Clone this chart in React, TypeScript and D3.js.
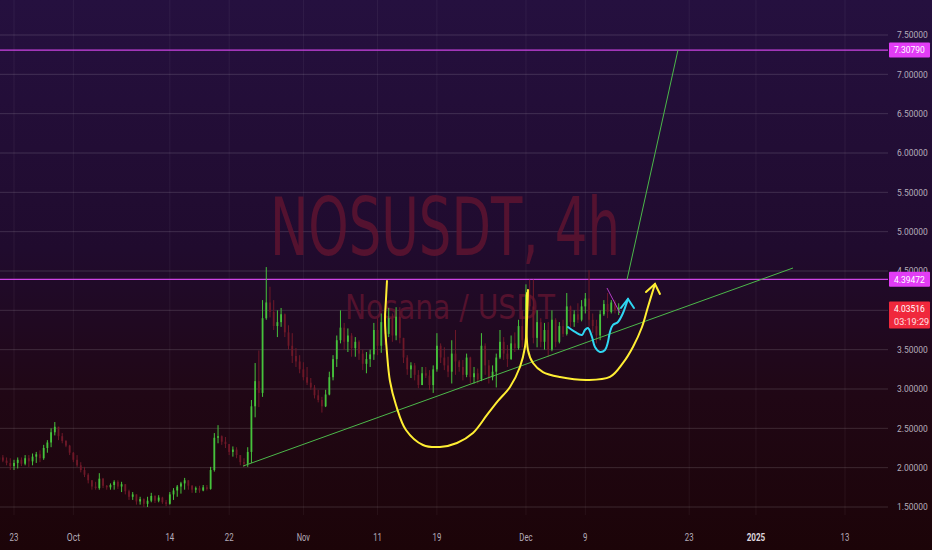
import React, { useEffect, useRef } from "react";
import * as d3 from "d3";

const firstCandle = Date.UTC(2024, 8, 21);
const candleStep = 12 * 3600 * 1000;

const opens = [
  2.10, 2.13, 2.09, 2.06, 2.02, 2.06, 2.10, 2.05, 2.12, 2.08,
  2.14, 2.17, 2.12, 2.25, 2.32, 2.45, 2.52, 2.40, 2.34, 2.28,
  2.19, 2.10, 2.03, 1.97, 1.91, 1.84, 1.76, 1.74, 1.86, 1.77,
  1.75, 1.78, 1.82, 1.76, 1.79, 1.70, 1.63, 1.66, 1.57, 1.60,
  1.54, 1.58, 1.64, 1.58, 1.62, 1.56, 1.54, 1.66, 1.71, 1.76,
  1.80, 1.84, 1.77, 1.72, 1.74, 1.71, 1.75, 1.73, 1.97, 2.38,
  2.40, 2.33, 2.30, 2.20, 2.23, 2.16, 2.07, 2.05, 2.20, 2.78,
  3.10, 2.95, 3.90, 4.10, 3.98, 3.80, 3.85, 3.95, 3.72, 3.55,
  3.42, 3.35, 3.25, 3.15, 3.08, 3.02, 2.92, 2.86, 2.78, 2.93,
  3.15, 3.38, 3.62, 3.78, 3.60, 3.68, 3.52, 3.60, 3.45, 3.32,
  3.38, 3.44, 3.75, 3.55, 3.85, 3.70, 3.90, 3.68, 3.92, 3.65,
  3.40, 3.25, 3.30, 3.18, 3.05, 3.20, 3.17, 3.05, 3.25, 3.55,
  3.40, 3.30, 3.22, 3.45, 3.35, 3.28, 3.18, 3.40, 3.15, 3.20,
  3.12, 3.55, 3.30, 3.15, 3.22, 3.40, 3.60, 3.45, 3.38, 3.58,
  3.52, 3.80, 3.62, 4.20, 4.05, 3.65, 3.85, 3.60, 3.75, 3.50,
  3.88, 3.60, 3.80, 3.70, 4.05, 3.85, 3.95, 3.88, 4.05, 4.15,
  3.88, 3.80, 3.68, 3.95, 4.08, 3.98, 4.10, 4.00,
];
const highs = [
  2.16, 2.16, 2.13, 2.12, 2.10, 2.13, 2.13, 2.16, 2.16, 2.18,
  2.20, 2.22, 2.29, 2.35, 2.50, 2.58, 2.52, 2.44, 2.35, 2.29,
  2.20, 2.16, 2.07, 2.01, 1.93, 1.84, 1.82, 1.93, 1.87, 1.78,
  1.80, 1.84, 1.84, 1.82, 1.79, 1.72, 1.69, 1.66, 1.63, 1.61,
  1.63, 1.68, 1.65, 1.65, 1.63, 1.59, 1.69, 1.74, 1.78, 1.82,
  1.87, 1.84, 1.78, 1.76, 1.77, 1.78, 1.78, 2.01, 2.44, 2.54,
  2.41, 2.39, 2.30, 2.27, 2.26, 2.16, 2.12, 2.26, 2.86, 3.33,
  3.49, 4.13, 4.55, 4.30, 4.13, 4.00, 4.03, 3.96, 3.81, 3.71,
  3.52, 3.43, 3.34, 3.28, 3.14, 3.05, 2.99, 2.90, 2.99, 3.22,
  3.43, 3.68, 4.00, 3.84, 3.77, 3.71, 3.66, 3.62, 3.50, 3.47,
  3.50, 3.84, 3.90, 3.96, 3.97, 4.03, 3.96, 4.04, 4.04, 3.65,
  3.43, 3.34, 3.33, 3.24, 3.28, 3.28, 3.24, 3.30, 3.71, 3.58,
  3.53, 3.41, 3.62, 3.75, 3.37, 3.37, 3.45, 3.41, 3.28, 3.26,
  3.71, 3.58, 3.37, 3.30, 3.45, 3.75, 3.66, 3.56, 3.68, 3.72,
  3.88, 4.00, 4.33, 4.39, 4.39, 4.00, 3.90, 3.84, 3.85, 4.00,
  3.90, 3.85, 3.88, 4.22, 4.06, 4.00, 4.09, 4.13, 4.22, 4.51,
  3.96, 3.88, 4.00, 4.13, 4.22, 4.13, 4.13, 4.09,
];
const lows = [
  2.07, 2.07, 2.03, 1.97, 1.97, 1.99, 2.02, 2.03, 2.01, 2.03,
  2.06, 2.07, 2.10, 2.19, 2.26, 2.41, 2.35, 2.31, 2.26, 2.16,
  2.07, 2.01, 1.94, 1.88, 1.80, 1.72, 1.72, 1.72, 1.74, 1.72,
  1.72, 1.72, 1.73, 1.69, 1.66, 1.59, 1.59, 1.53, 1.53, 1.50,
  1.50, 1.56, 1.55, 1.56, 1.54, 1.51, 1.53, 1.59, 1.63, 1.67,
  1.72, 1.72, 1.68, 1.68, 1.68, 1.70, 1.71, 1.72, 1.95, 2.31,
  2.29, 2.25, 2.16, 2.14, 2.12, 2.03, 2.01, 2.01, 2.06, 2.64,
  2.77, 2.90, 3.88, 3.91, 3.75, 3.66, 3.79, 3.66, 3.50, 3.33,
  3.28, 3.20, 3.11, 3.05, 2.99, 2.88, 2.83, 2.70, 2.77, 2.92,
  3.11, 3.28, 3.58, 3.50, 3.47, 3.41, 3.41, 3.37, 3.24, 3.20,
  3.28, 3.37, 3.43, 3.46, 3.56, 3.66, 3.60, 3.62, 3.58, 3.33,
  3.18, 3.14, 3.11, 3.01, 3.05, 3.14, 2.99, 2.95, 3.22, 3.33,
  3.24, 3.15, 3.07, 3.18, 3.22, 3.11, 3.15, 3.07, 3.07, 3.07,
  3.10, 3.18, 3.07, 3.11, 3.02, 3.38, 3.37, 3.28, 3.37, 3.47,
  3.50, 3.53, 3.60, 4.00, 3.58, 3.53, 3.53, 3.50, 3.41, 3.48,
  3.53, 3.58, 3.66, 3.68, 3.79, 3.79, 3.84, 3.86, 3.96, 3.79,
  3.71, 3.58, 3.62, 3.93, 3.90, 3.96, 3.96, 3.94,
];
const closes = [
  2.13, 2.09, 2.06, 2.02, 2.06, 2.10, 2.05, 2.12, 2.08, 2.14,
  2.17, 2.12, 2.25, 2.32, 2.45, 2.52, 2.40, 2.34, 2.28, 2.19,
  2.10, 2.03, 1.97, 1.91, 1.84, 1.76, 1.74, 1.86, 1.77, 1.75,
  1.78, 1.82, 1.76, 1.79, 1.70, 1.63, 1.66, 1.57, 1.60, 1.54,
  1.58, 1.64, 1.58, 1.62, 1.56, 1.54, 1.66, 1.71, 1.76, 1.80,
  1.84, 1.77, 1.72, 1.74, 1.71, 1.75, 1.73, 1.97, 2.38, 2.40,
  2.33, 2.30, 2.20, 2.23, 2.16, 2.07, 2.05, 2.20, 2.78, 3.10,
  2.95, 3.90, 4.10, 3.98, 3.80, 3.85, 3.95, 3.72, 3.55, 3.42,
  3.35, 3.25, 3.15, 3.08, 3.02, 2.92, 2.86, 2.78, 2.93, 3.15,
  3.38, 3.62, 3.78, 3.60, 3.68, 3.52, 3.60, 3.45, 3.32, 3.38,
  3.44, 3.75, 3.55, 3.85, 3.70, 3.90, 3.68, 3.92, 3.65, 3.40,
  3.25, 3.30, 3.18, 3.05, 3.20, 3.17, 3.05, 3.25, 3.55, 3.40,
  3.30, 3.22, 3.45, 3.35, 3.28, 3.18, 3.40, 3.15, 3.20, 3.12,
  3.55, 3.30, 3.15, 3.22, 3.40, 3.60, 3.45, 3.38, 3.58, 3.52,
  3.80, 3.62, 4.20, 4.05, 3.65, 3.85, 3.60, 3.75, 3.50, 3.88,
  3.60, 3.80, 3.70, 4.05, 3.85, 3.95, 3.88, 4.05, 4.15, 3.88,
  3.80, 3.68, 3.95, 4.08, 3.98, 4.10, 4.00, 4.035,
];

// 4.00000 sits under the last-price box, so it is not printed
const priceTicks = [1.5, 2, 2.5, 3, 3.5, 4, 4.5, 5, 5.5, 6, 6.5, 7, 7.5];
const priceLabels = [1.5, 2, 2.5, 3, 3.5, 4.5, 5, 5.5, 6, 6.5, 7, 7.5];
const timeTickDates = [
  "2024-09-23", "2024-10-01", "2024-10-14", "2024-10-22", "2024-11-01", "2024-11-11",
  "2024-11-19", "2024-12-01", "2024-12-09", "2024-12-23", "2025-01-01", "2025-01-13",
];
const timeTickLabels = ["23", "Oct", "14", "22", "Nov", "11", "19", "Dec", "9", "23", "2025", "13"];

const levels = [7.3079, 4.39472];
const lastPrice = 4.03516;
const countdown = "03:19:29";

// hand drawings, as [days after 23 Sep 2024, price]
const trendLine = [[30.86, 2.02], [104.99, 4.538]];
const targetLine = [[82.61, 4.386], [89.49, 7.309]];
const smallDrop = [[79.92, 4.284], [81.67, 3.966]];
const yellowCup = [
  [50.27, 4.373], [50.13, 4.132], [50.0, 3.877], [50.27, 3.458], [50.67, 3.102],
  [51.48, 2.797], [52.83, 2.479], [55.12, 2.288], [57.41, 2.263], [59.7, 2.314],
  [61.86, 2.441], [63.75, 2.67], [65.23, 2.848], [66.85, 3.026], [68.19, 3.28],
  [68.87, 3.534], [69.14, 3.877], [69.27, 4.259],
];
const yellowHandle = [
  [69.14, 4.22], [69.27, 3.496], [69.95, 3.331], [71.29, 3.216], [73.58, 3.153],
  [77.22, 3.115], [80.32, 3.153], [82.08, 3.331], [83.42, 3.534], [84.64, 3.788],
  [85.44, 4.043], [86.39, 4.335],
];
const yellowHead = [[85.18, 4.233], [86.39, 4.335], [87.06, 4.208]];
const cyanWave = [
  [74.66, 3.788], [75.61, 3.725], [76.55, 3.687], [76.95, 3.75], [77.36, 3.776],
  [77.9, 3.661], [78.3, 3.534], [78.98, 3.471], [79.65, 3.496], [80.05, 3.598],
  [80.32, 3.725], [80.73, 3.814], [81.4, 3.852], [82.08, 3.966], [82.48, 4.068],
  [82.75, 4.144],
];
const cyanHead = [[81.81, 4.03], [82.75, 4.144], [83.56, 4.03]];

const W = 932;
const H = 550;
const plotRight = 888;
const plotBottom = 515;
const axisFont = "Roboto, 'DejaVu Sans', sans-serif";
const charW = 4.4; // the axis font is a narrow one, squeeze to match

function Chart() {
  const ref = useRef<SVGSVGElement | null>(null);

  useEffect(() => {
    const svg = d3.select(ref.current);
    svg.selectAll("*").remove();

    const base = Date.UTC(2024, 8, 23);
    const day = 86400000;

    var x = d3
      .scaleUtc()
      .domain([new Date(base), new Date(Date.UTC(2025, 0, 13))])
      .range([14, 845]);
    var y = d3.scaleLinear().domain([1.5, 7.5]).range([507, 35]);

    const px = (d: number[]) => x(new Date(base + d[0] * day));
    const py = (d: number[]) => y(d[1]);

    // background
    var defs = svg.append("defs");
    var grad = defs
      .append("linearGradient")
      .attr("id", "bg")
      .attr("x1", 0)
      .attr("y1", 0)
      .attr("x2", 0)
      .attr("y2", 1);
    grad.append("stop").attr("offset", "0%").attr("stop-color", "#25103f");
    grad.append("stop").attr("offset", "45%").attr("stop-color", "#200b2e");
    grad.append("stop").attr("offset", "72%").attr("stop-color", "#200715");
    grad.append("stop").attr("offset", "100%").attr("stop-color", "#1c0408");
    defs
      .append("clipPath")
      .attr("id", "plot")
      .append("rect")
      .attr("width", plotRight)
      .attr("height", plotBottom);

    svg.append("rect").attr("width", W).attr("height", H).attr("fill", "url(#bg)");

    // grid
    svg
      .selectAll("vgrid")
      .data(timeTickDates)
      .enter()
      .append("line")
      .attr("x1", (d) => x(new Date(d)))
      .attr("x2", (d) => x(new Date(d)))
      .attr("y1", 0)
      .attr("y2", plotBottom)
      .attr("stroke", "rgba(255,255,255,0.055)");
    svg
      .selectAll("hgrid")
      .data(priceTicks)
      .enter()
      .append("line")
      .attr("x1", 0)
      .attr("x2", plotRight)
      .attr("y1", (d) => y(d))
      .attr("y2", (d) => y(d))
      .attr("stroke", "rgba(255,255,255,0.14)");

    // watermark
    svg
      .append("text")
      .text("NOSUSDT, 4h")
      .attr("x", 270)
      .attr("y", 255)
      .attr("textLength", 350)
      .attr("lengthAdjust", "spacingAndGlyphs")
      .attr("font-family", "'DejaVu Sans', sans-serif")
      .attr("font-size", 80)
      .attr("fill", "#5e1430")
      .attr("opacity", 0.85);
    svg
      .append("text")
      .text("Nosana / USDT")
      .attr("x", 345)
      .attr("y", 319)
      .attr("textLength", 210)
      .attr("lengthAdjust", "spacingAndGlyphs")
      .attr("font-family", "'DejaVu Sans', sans-serif")
      .attr("font-size", 34)
      .attr("fill", "#5e1430")
      .attr("opacity", 0.85);

    var plot = svg.append("g").attr("clip-path", "url(#plot)");

    // levels
    plot
      .selectAll("levels")
      .data(levels)
      .enter()
      .append("line")
      .attr("x1", 0)
      .attr("x2", plotRight)
      .attr("y1", (d) => y(d))
      .attr("y2", (d) => y(d))
      .attr("stroke", "#cc44e4")
      .attr("stroke-width", 1.2);

    // candles
    var candles = opens.map((o, i) => ({
      t: new Date(firstCandle + i * candleStep),
      o: o,
      h: highs[i],
      l: lows[i],
      c: closes[i],
    }));
    var up = "#46c23c";
    var down = "#6e1828";
    var g = plot.selectAll("candle").data(candles).enter().append("g");
    g.append("line")
      .attr("x1", (d) => x(d.t))
      .attr("x2", (d) => x(d.t))
      .attr("y1", (d) => y(d.h))
      .attr("y2", (d) => y(d.l))
      .attr("stroke", (d) => (d.c >= d.o ? up : down))
      .attr("stroke-width", 1);
    g.append("rect")
      .attr("x", (d) => x(d.t) - 0.9)
      .attr("width", 1.8)
      .attr("y", (d) => y(Math.max(d.o, d.c)))
      .attr("height", (d) => Math.max(1, Math.abs(y(d.o) - y(d.c))))
      .attr("fill", (d) => (d.c >= d.o ? up : down));

    // drawings
    var straight = d3.line<number[]>().x(px).y(py);
    var smooth = d3.line<number[]>().x(px).y(py).curve(d3.curveCatmullRom);

    plot.append("path").attr("d", straight(trendLine)).attr("stroke", "#4cb84a").attr("fill", "none");
    plot.append("path").attr("d", straight(targetLine)).attr("stroke", "#4cb84a").attr("fill", "none");
    plot.append("path").attr("d", straight(smallDrop)).attr("stroke", "#b23cc4").attr("fill", "none");

    [yellowCup, yellowHandle].forEach((pts) => {
      plot
        .append("path")
        .attr("d", smooth(pts))
        .attr("stroke", "#ffee33")
        .attr("stroke-width", 2)
        .attr("fill", "none")
        .attr("stroke-linecap", "round");
    });
    plot
      .append("path")
      .attr("d", straight(yellowHead))
      .attr("stroke", "#ffee33")
      .attr("stroke-width", 2)
      .attr("fill", "none")
      .attr("stroke-linecap", "round");
    plot
      .append("path")
      .attr("d", smooth(cyanWave))
      .attr("stroke", "#2fd6f2")
      .attr("stroke-width", 2)
      .attr("fill", "none")
      .attr("stroke-linecap", "round");
    plot
      .append("path")
      .attr("d", straight(cyanHead))
      .attr("stroke", "#2fd6f2")
      .attr("stroke-width", 2)
      .attr("fill", "none")
      .attr("stroke-linecap", "round");

    // price axis
    var fmt = d3.format(".5f");
    const squeeze = (sel: any, s: string) =>
      sel
        .attr("textLength", s.length * charW)
        .attr("lengthAdjust", "spacingAndGlyphs")
        .attr("font-family", axisFont)
        .attr("font-size", 9.5);

    priceLabels.forEach((v) => {
      squeeze(
        svg
          .append("text")
          .text(fmt(v))
          .attr("x", 897)
          .attr("y", y(v))
          .attr("dy", "0.35em")
          .attr("fill", "#b4acba"),
        fmt(v)
      );
    });

    levels.forEach((v) => {
      svg
        .append("rect")
        .attr("x", 889)
        .attr("y", y(v) - 7.5)
        .attr("width", 41)
        .attr("height", 15)
        .attr("rx", 1)
        .attr("fill", "#e23cf6");
      squeeze(
        svg
          .append("text")
          .text(fmt(v))
          .attr("x", 894)
          .attr("y", y(v))
          .attr("dy", "0.35em")
          .attr("fill", "#ffffff"),
        fmt(v)
      );
    });

    var ly = y(lastPrice);
    svg
      .append("rect")
      .attr("x", 889)
      .attr("y", ly - 6)
      .attr("width", 41)
      .attr("height", 27)
      .attr("rx", 1)
      .attr("fill", "#f0283c");
    squeeze(
      svg.append("text").text(fmt(lastPrice)).attr("x", 894).attr("y", ly + 4).attr("fill", "#ffffff"),
      fmt(lastPrice)
    );
    squeeze(
      svg.append("text").text(countdown).attr("x", 894).attr("y", ly + 17).attr("fill", "#ffe0e4"),
      countdown
    );

    // time axis
    timeTickDates.forEach((d, i) => {
      const label = timeTickLabels[i];
      const w = label.length * charW + (label === "2025" ? 1 : 0);
      squeeze(
        svg
          .append("text")
          .text(label)
          .attr("x", x(new Date(d)) - w / 2)
          .attr("y", 537)
          .attr("dy", "0.35em")
          .attr("font-weight", label === "2025" ? "bold" : "normal")
          .attr("fill", label === "2025" ? "#dcd4dc" : "#b4acba"),
        label
      )
        .attr("textLength", w)
        .attr("font-size", 10.5);
    });
  }, []);

  return (
    <svg
      ref={ref}
      width={W}
      height={H}
      style={{ position: "absolute", left: 0, top: 0, display: "block" }}
    />
  );
}

export default function App() {
  return <Chart />;
}
